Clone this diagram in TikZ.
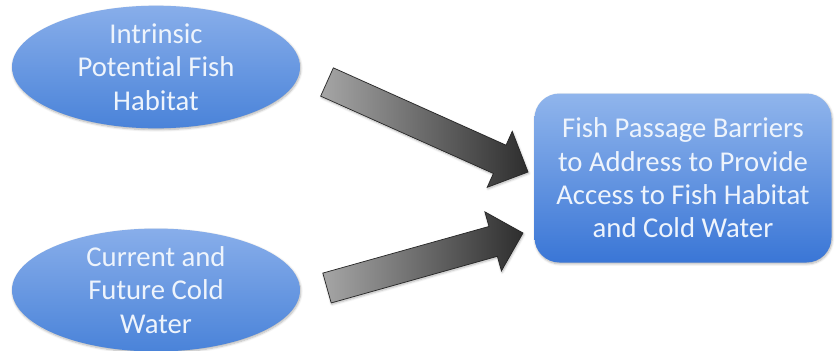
\documentclass[tikz,border=0pt]{standalone}
\usepackage{fontspec}
\setmainfont{Carlito}[Ligatures=NoCommon]
\usetikzlibrary{calc,shapes.geometric,shadows.blur}

\definecolor{bluetop}{HTML}{88AEEA}
\definecolor{bluebot}{HTML}{4A83D9}
\definecolor{boxtop}{HTML}{90B5EC}
\definecolor{boxbot}{HTML}{3A76D6}
\definecolor{paletext}{HTML}{EEF4FC}

% fat shaded arrow from tail coordinate #1 to tip coordinate #2
\newcommand{\fatarrow}[2]{%
  \coordinate (#1-base) at ($(#2)!0.93cm!(#1)$);
  \shade[fatarrow]
    ($(#1)!0.465cm!90:(#2)$) -- ($(#1-base)!0.465cm!90:(#2)$)
    -- ($(#1-base)!0.92cm!90:(#2)$) -- (#2)
    -- ($(#1-base)!0.92cm!-90:(#2)$) -- ($(#1-base)!0.465cm!-90:(#2)$)
    -- ($(#1)!0.465cm!-90:(#2)$) -- cycle;
}

\begin{document}
\begin{tikzpicture}[
        x=0.03cm, y=-0.03cm,
        every node/.style={align=center, text=paletext, font=\fontsize{24.5}{28.5}\selectfont},
        shadowed/.style={blur shadow={shadow xshift=0.6pt, shadow yshift=-1.2pt, shadow blur steps=6, shadow opacity=30}},
        oval/.style={ellipse, shadowed, top color=bluetop, bottom color=bluebot, minimum width=8.64cm, minimum height=3.48cm, inner sep=0pt},
        goalbox/.style={rectangle, shadowed, rounded corners=0.75cm, top color=boxtop, bottom color=boxbot, minimum width=8.91cm, minimum height=5.07cm},
        fatarrow/.style={left color=black!35, right color=black!82, draw=black!85, line width=0.6pt, shadowed}
    ]
        \useasboundingbox (0,0) rectangle (838,350);

        % Inputs
        \node[oval] (habitat) at (156, 67) {Intrinsic\\Potential Fish\\Habitat};
        \node[oval] (coldwater) at (156, 290) {Current and\\Future Cold\\Water};

        % Outcome
        \node[goalbox] (barriers) at (683, 178) {Fish Passage Barriers\\to Address to Provide\\Access to Fish Habitat\\and Cold Water};

        % Arrow ends
        \coordinate (t1) at (327, 82);
        \coordinate (h1) at (528, 172);
        \coordinate (t2) at (327, 288);
        \coordinate (h2) at (523, 233);

        \fatarrow{t1}{h1}
        \fatarrow{t2}{h2}
    \end{tikzpicture}
\end{document}
